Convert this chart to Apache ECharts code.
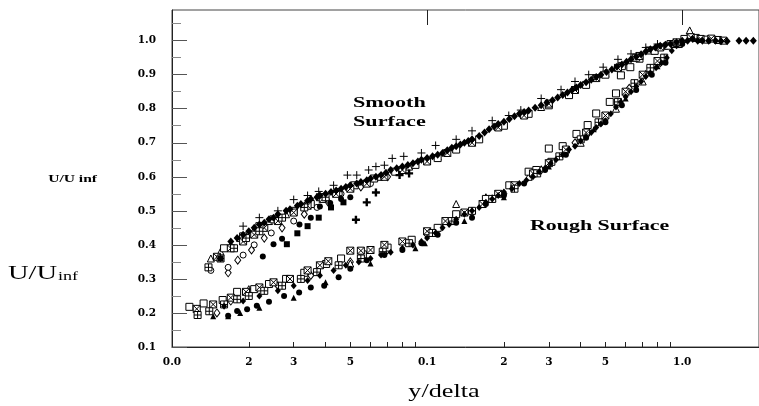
<!DOCTYPE html>
<html>
<head>
<meta charset="UTF-8">
<title>U/Uinf vs y/delta</title>
<script src="https://cdn.jsdelivr.net/npm/echarts@6/dist/echarts.min.js"></script>
<style>
  html, body { margin: 0; background: #fff; }
  #main { width: 759px; height: 406px; }
</style>
</head>
<body>
<div id="main"></div>
<script>
  // ---- axis ticks / labels ----
  var xLabelVals = [0.01, 0.02, 0.03, 0.05, 0.1, 0.2, 0.3, 0.5, 1.0];
  var xLabelText = ['0.0', '2', '3', '5', '0.1', '2', '3', '5', '1.0'];
  var xSmallTicks = [0.02, 0.03, 0.04, 0.05, 0.06, 0.07, 0.08, 0.09, 0.2, 0.3, 0.4, 0.5, 0.6, 0.7, 0.8, 0.9];
  var xBigTicks = [0.1, 1.0];
  var yLabelVals = [0.1, 0.2, 0.3, 0.4, 0.5, 0.6, 0.7, 0.8, 0.9, 1.0];
  var yMinorTicks = [0.15, 0.25, 0.35, 0.45, 0.55, 0.65, 0.75, 0.85, 0.95, 1.05];

  // ---- smooth surface ----
  var smoothDiamond = [[0.017,0.41],[0.018,0.42],[0.019,0.43],[0.02,0.44],[0.021,0.45],[0.022,0.46],[0.023,0.465],[0.024,0.475],[0.025,0.48],[0.026,0.49],[0.028,0.5],[0.029,0.505],[0.031,0.515],[0.032,0.52],[0.034,0.53],[0.035,0.535],[0.037,0.54],[0.038,0.545],[0.04,0.55],[0.042,0.555],[0.044,0.56],[0.046,0.565],[0.048,0.57],[0.05,0.575],[0.053,0.58],[0.055,0.585],[0.058,0.59],[0.06,0.595],[0.063,0.6],[0.066,0.605],[0.069,0.612],[0.072,0.62],[0.076,0.625],[0.08,0.63],[0.084,0.635],[0.088,0.64],[0.092,0.645],[0.095,0.65],[0.1,0.655],[0.105,0.66],[0.11,0.665],[0.115,0.67],[0.12,0.678],[0.125,0.685],[0.13,0.69],[0.135,0.695],[0.14,0.7],[0.145,0.705],[0.15,0.71],[0.16,0.72],[0.168,0.73],[0.175,0.74],[0.183,0.748],[0.19,0.755],[0.2,0.762],[0.21,0.77],[0.22,0.778],[0.23,0.785],[0.24,0.79],[0.25,0.795],[0.265,0.803],[0.28,0.81],[0.295,0.818],[0.31,0.825],[0.325,0.833],[0.34,0.84],[0.355,0.848],[0.37,0.855],[0.385,0.862],[0.4,0.87],[0.42,0.878],[0.44,0.885],[0.46,0.893],[0.48,0.9],[0.505,0.908],[0.53,0.915],[0.555,0.923],[0.58,0.93],[0.605,0.938],[0.63,0.945],[0.66,0.953],[0.69,0.96],[0.72,0.968],[0.75,0.975],[0.785,0.98],[0.82,0.985],[0.86,0.988],[0.9,0.99],[0.95,0.995],[1.0,1.0],[1.05,1.0],[1.1,1.005],[1.15,1.0],[1.2,1.0],[1.27,1.0],[1.35,1.0],[1.42,0.998],[1.5,0.998],[1.67,1.0],[1.78,1.0],[1.9,1.0]];
  var smoothPlus = [[0.019,0.455],[0.022,0.48],[0.026,0.5],[0.03,0.533],[0.034,0.545],[0.0376,0.557],[0.043,0.575],[0.0487,0.605],[0.053,0.605],[0.059,0.62],[0.063,0.63],[0.068,0.634],[0.073,0.654],[0.081,0.66],[0.095,0.67],[0.108,0.692],[0.13,0.71],[0.15,0.735],[0.18,0.765],[0.209,0.78],[0.233,0.796],[0.28,0.83],[0.335,0.856],[0.38,0.88],[0.43,0.9],[0.49,0.922],[0.56,0.945],[0.63,0.961],[0.72,0.98],[0.8,0.99]];
  var smoothSquare = [[0.016,0.39],[0.019,0.425],[0.022,0.455],[0.025,0.475],[0.03,0.5],[0.035,0.52],[0.038,0.54],[0.045,0.555],[0.052,0.575],[0.062,0.595],[0.075,0.615],[0.09,0.635],[0.11,0.655],[0.13,0.68],[0.16,0.71],[0.2,0.75],[0.25,0.785],[0.3,0.81],[0.36,0.84],[0.42,0.87],[0.5,0.9],[0.58,0.925],[0.66,0.95],[0.78,0.97],[0.88,0.985],[1.02,1.005],[1.13,1.008],[1.25,1.003],[1.38,1.002]];
  var smoothCrossSquare = [[0.015,0.365],[0.017,0.39],[0.019,0.41],[0.021,0.43],[0.023,0.45],[0.026,0.47],[0.03,0.495],[0.034,0.515],[0.039,0.535],[0.044,0.55],[0.05,0.565],[0.058,0.58],[0.068,0.6],[0.08,0.62],[0.1,0.645],[0.12,0.67],[0.15,0.7],[0.19,0.745],[0.24,0.78],[0.3,0.815],[0.38,0.855],[0.46,0.89],[0.56,0.92],[0.68,0.955],[0.82,0.98],[0.95,0.995],[1.08,1.01],[1.18,1.005],[1.3,1.006],[1.45,1.0]];
  var smoothTriangle = [[0.0142,0.36],[0.0155,0.38],[0.017,0.4],[0.0185,0.42],[0.021,0.445],[0.024,0.47],[0.028,0.49],[0.034,0.52],[0.04,0.545],[0.05,0.57],[0.065,0.6],[0.085,0.63],[0.11,0.66],[0.15,0.705],[0.2,0.755],[0.28,0.805],[0.38,0.86],[0.5,0.905],[0.65,0.95],[0.85,0.985],[1.07,1.03]];
  var smoothCircle = [[0.0142,0.325],[0.0166,0.334],[0.019,0.37],[0.021,0.4],[0.0245,0.435],[0.03,0.47],[0.037,0.51],[0.046,0.55],[0.06,0.58],[0.08,0.62]];
  var smoothOpenDiamond = [[0.0166,0.318],[0.0181,0.355],[0.0205,0.385],[0.023,0.42],[0.027,0.45],[0.033,0.49],[0.041,0.525],[0.055,0.57],[0.07,0.6]];
  var smoothGridSquare = [[0.0139,0.334],[0.0155,0.36],[0.0175,0.39],[0.0195,0.42],[0.022,0.44],[0.027,0.48],[0.033,0.51],[0.04,0.54]];
  var smoothDotDip = [[0.0227,0.366],[0.025,0.402],[0.027,0.418],[0.0316,0.46],[0.035,0.48],[0.038,0.513],[0.0417,0.523],[0.046,0.535],[0.05,0.54]];
  var smoothSquareDip = [[0.0155,0.36],[0.0282,0.402],[0.031,0.434],[0.034,0.455],[0.0376,0.48],[0.042,0.51],[0.047,0.525]];
  var smoothBoldPlus = [[0.0526,0.474],[0.058,0.525],[0.063,0.554],[0.078,0.605],[0.085,0.61]];

  // ---- rough surface ----
  var roughDiamond = [[0.016,0.22],[0.019,0.235],[0.022,0.25],[0.026,0.265],[0.03,0.28],[0.034,0.295],[0.038,0.31],[0.043,0.325],[0.048,0.34],[0.054,0.35],[0.06,0.36],[0.066,0.37],[0.072,0.378],[0.08,0.39],[0.088,0.4],[0.095,0.41],[0.1,0.42],[0.108,0.435],[0.115,0.45],[0.122,0.46],[0.13,0.475],[0.14,0.49],[0.15,0.5],[0.16,0.51],[0.17,0.525],[0.18,0.535],[0.19,0.545],[0.2,0.555],[0.215,0.565],[0.23,0.58],[0.245,0.59],[0.26,0.6],[0.275,0.615],[0.29,0.625],[0.305,0.64],[0.32,0.65],[0.34,0.665],[0.36,0.68],[0.38,0.69],[0.4,0.705],[0.42,0.718],[0.44,0.73],[0.46,0.745],[0.48,0.755],[0.5,0.765],[0.525,0.785],[0.55,0.805],[0.575,0.82],[0.6,0.835],[0.63,0.85],[0.66,0.865],[0.69,0.88],[0.72,0.895],[0.75,0.905],[0.79,0.92],[0.83,0.935],[0.87,0.95],[0.91,0.97],[0.95,0.985],[1.0,0.995]];
  var roughSquare = [[0.0117,0.218],[0.0133,0.228],[0.0158,0.238],[0.018,0.262],[0.021,0.27],[0.024,0.285],[0.028,0.3],[0.033,0.318],[0.0402,0.344],[0.046,0.36],[0.056,0.372],[0.07,0.392],[0.087,0.415],[0.11,0.45],[0.13,0.49],[0.17,0.535],[0.21,0.575],[0.25,0.615],[0.268,0.62],[0.3,0.683],[0.307,0.644],[0.34,0.69],[0.385,0.726],[0.426,0.752],[0.46,0.786],[0.52,0.82],[0.55,0.845],[0.575,0.898],[0.626,0.922],[0.68,0.947],[0.744,0.971],[0.9,0.99]];
  var roughCrossSquare = [[0.0125,0.212],[0.0145,0.225],[0.017,0.245],[0.0195,0.262],[0.022,0.275],[0.025,0.29],[0.029,0.3],[0.034,0.325],[0.038,0.34],[0.041,0.352],[0.05,0.383],[0.055,0.383],[0.06,0.385],[0.068,0.4],[0.08,0.41],[0.1,0.44],[0.118,0.47],[0.14,0.495],[0.165,0.52],[0.19,0.55],[0.22,0.575],[0.26,0.61],[0.3,0.64],[0.35,0.68],[0.42,0.73],[0.5,0.78],[0.6,0.85],[0.7,0.9],[0.8,0.94],[0.95,0.99]];
  var roughGridSquare = [[0.0126,0.194],[0.014,0.205],[0.016,0.225],[0.018,0.24],[0.02,0.25],[0.023,0.265],[0.027,0.28],[0.032,0.3],[0.037,0.32],[0.045,0.34],[0.055,0.36],[0.067,0.38],[0.085,0.405],[0.105,0.435],[0.125,0.47],[0.15,0.5],[0.18,0.535],[0.22,0.565],[0.27,0.61],[0.33,0.66],[0.4,0.71],[0.47,0.76],[0.56,0.82],[0.65,0.875],[0.75,0.92],[0.85,0.95],[0.97,0.99]];
  var roughDot = [[0.0166,0.192],[0.018,0.206],[0.0197,0.211],[0.0215,0.221],[0.024,0.233],[0.0275,0.25],[0.0315,0.26],[0.035,0.275],[0.0395,0.28],[0.045,0.305],[0.05,0.33],[0.058,0.355],[0.068,0.37],[0.08,0.385],[0.095,0.405],[0.11,0.43],[0.13,0.465],[0.15,0.48],[0.17,0.52],[0.2,0.545],[0.24,0.58],[0.29,0.62],[0.35,0.665],[0.42,0.715],[0.5,0.76],[0.58,0.81],[0.66,0.855],[0.76,0.9],[0.86,0.935],[1.0,0.99]];
  var roughTriangle = [[0.0145,0.19],[0.0166,0.19],[0.0185,0.2],[0.022,0.215],[0.03,0.245],[0.04,0.29],[0.06,0.345],[0.09,0.39],[0.098,0.405],[0.14,0.47],[0.2,0.54],[0.3,0.63],[0.45,0.74],[0.6,0.83],[0.8,0.925]];
  var roughOpenTriangle = [[0.02,0.27],[0.05,0.345],[0.13,0.52],[0.17,0.54],[0.18,0.537],[0.25,0.6],[0.4,0.7],[0.55,0.8],[0.7,0.88]];
  var roughOpenDiamond = [[0.0125,0.21],[0.015,0.2],[0.017,0.235],[0.02,0.255],[0.026,0.28],[0.035,0.31],[0.05,0.35],[0.07,0.385],[0.1,0.43],[0.15,0.495],[0.2,0.55],[0.28,0.62],[0.38,0.7],[0.5,0.775],[0.62,0.86],[0.72,0.9],[0.82,0.935]];

  var PLUS = 'path://M5,0V10M0,5H10';
  var BOLDPLUS = 'path://M3.5,0H6.5V3.5H10V6.5H6.5V10H3.5V6.5H0V3.5H3.5Z';
  var XSQ = 'path://M0,0H10V10H0ZM0,0L10,10M10,0L0,10';
  var PSQ = 'path://M0,0H10V10H0ZM5,0V10M0,5H10';

  function pts(data, symbol, size, fill, stroke) {
    return {
      type: 'scatter', data: data, symbol: symbol, symbolSize: size,
      itemStyle: { color: fill, borderColor: stroke || fill, borderWidth: stroke ? 1 : 0, opacity: 1 },
      silent: true
    };
  }

  var tickFont = { fontFamily: 'DejaVu Serif', fontWeight: 'bold', fontSize: 10.5, color: '#000' };
  var boldTimes = 'bold 15px "Liberation Serif"';

  var option = {
    backgroundColor: '#fff',
    animation: false,
    grid: { left: 172, top: 10, right: -6, bottom: 59, show: true, borderColor: '#444', borderWidth: 1 },
    xAxis: [{
      type: 'log', logBase: 10, min: 0.01, max: 2,
      axisLine: { show: true, onZero: false, lineStyle: { color: '#222', width: 1 } },
      axisTick: { show: true, inside: true, length: 5, customValues: xSmallTicks, lineStyle: { color: '#222' } },
      axisLabel: Object.assign({
        customValues: xLabelVals, margin: 10,
        formatter: function (v) {
          for (var i = 0; i < xLabelVals.length; i++) {
            if (Math.abs(Math.log10(v) - Math.log10(xLabelVals[i])) < 1e-6) return xLabelText[i];
          }
          return '';
        }
      }, tickFont),
      splitLine: { show: false }
    }, {
      type: 'log', logBase: 10, min: 0.01, max: 2,
      axisLine: { show: false },
      axisTick: { show: true, inside: true, length: 15, customValues: xBigTicks, lineStyle: { color: '#222' } },
      axisLabel: { show: false },
      splitLine: { show: false }
    }],
    yAxis: [{
      type: 'value', min: 0.1, max: 1.09, position: 'left',
      axisLine: { show: true, lineStyle: { color: '#222', width: 1 } },
      axisTick: { show: true, inside: true, length: 15, customValues: yLabelVals, lineStyle: { color: '#555' } },
      axisLabel: Object.assign({
        customValues: yLabelVals, margin: 16,
        formatter: function (v) { return v.toFixed(1); }
      }, tickFont),
      splitLine: { show: false }
    }, {
      type: 'value', min: 0.1, max: 1.09, position: 'left',
      axisLine: { show: false },
      axisTick: { show: true, inside: true, length: 9, customValues: yMinorTicks, lineStyle: { color: '#888' } },
      axisLabel: { show: false },
      splitLine: { show: false }
    }],
    graphic: [
      { type: 'text', x: 353, y: 103, scaleX: 1.48, style: { text: 'Smooth', font: boldTimes, fill: '#000', verticalAlign: 'middle' } },
      { type: 'text', x: 353, y: 122, scaleX: 1.48, style: { text: 'Surface', font: boldTimes, fill: '#000', verticalAlign: 'middle' } },
      { type: 'text', x: 530, y: 226, scaleX: 1.46, style: { text: 'Rough Surface', font: boldTimes, fill: '#000', verticalAlign: 'middle' } },
      { type: 'text', x: 97, y: 179, scaleX: 1.48, style: { text: 'U/U inf', font: 'bold 10.5px "Liberation Serif"', fill: '#000', align: 'right', verticalAlign: 'middle' } },
      { type: 'text', x: 444, y: 392, scaleX: 1.38, style: { text: 'y/delta', font: '19px "Liberation Serif"', fill: '#000', align: 'center', verticalAlign: 'middle' } },
      { type: 'text', x: 8, y: 274, scaleX: 1.5, style: { text: 'U/U', font: '19px "Liberation Serif"', fill: '#000', verticalAlign: 'middle' } },
      { type: 'text', x: 58, y: 277, scaleX: 1.45, style: { text: 'inf', font: '12.5px "Liberation Serif"', fill: '#000', verticalAlign: 'middle' } }
    ],
    series: [
      pts(roughOpenDiamond, 'diamond', [6, 8], '#fff', '#000'),
      pts(roughOpenTriangle, 'triangle', 7, '#fff', '#000'),
      pts(roughSquare, 'rect', 7, '#fff', '#000'),
      pts(roughCrossSquare, XSQ, 7, '#fff', '#000'),
      pts(roughGridSquare, PSQ, 7, '#fff', '#000'),
      pts(roughDiamond, 'diamond', [6, 7], '#000'),
      pts(roughDot, 'circle', 6, '#000'),
      pts(roughTriangle, 'triangle', 6, '#000'),
      pts(smoothOpenDiamond, 'diamond', [6, 8], '#fff', '#000'),
      pts(smoothCircle, 'circle', 6, '#fff', '#000'),
      pts(smoothTriangle, 'triangle', 7, '#fff', '#000'),
      pts(smoothSquare, 'rect', 7, '#fff', '#000'),
      pts(smoothCrossSquare, XSQ, 7, '#fff', '#000'),
      pts(smoothGridSquare, PSQ, 7, '#fff', '#000'),
      pts(smoothPlus, PLUS, 8, 'none', '#000'),
      pts(smoothDotDip, 'circle', 6, '#000'),
      pts(smoothSquareDip, 'rect', 6, '#000'),
      pts(smoothBoldPlus, BOLDPLUS, 8, '#000'),
      pts(smoothDiamond, 'diamond', [7, 8], '#000')
    ]
  };

  echarts.init(document.getElementById('main')).setOption(option);
</script>
</body>
</html>
